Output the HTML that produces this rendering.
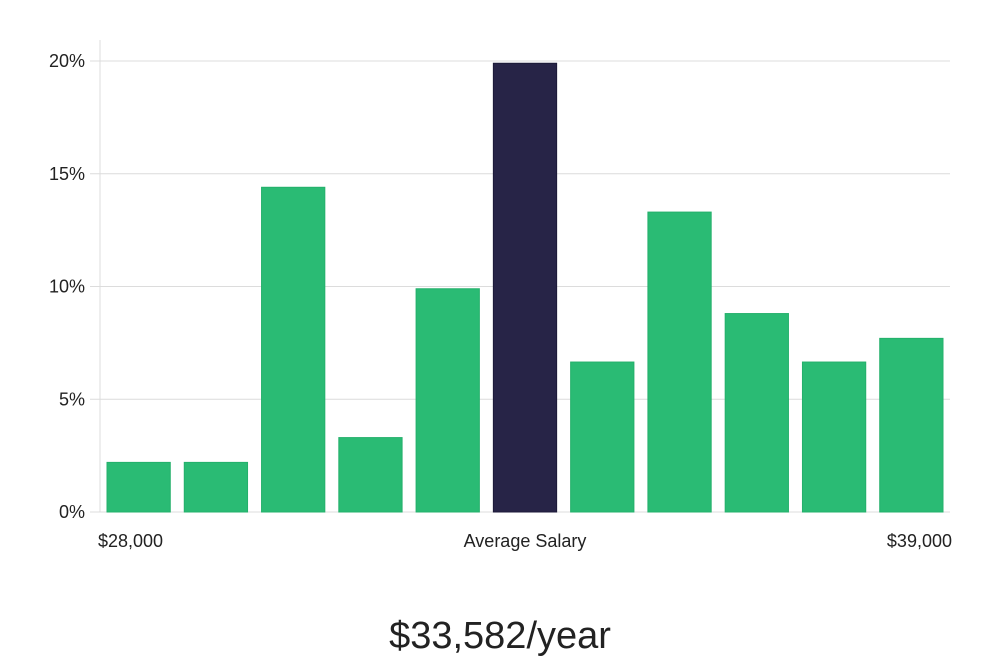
<!DOCTYPE html>
<html><head><meta charset="utf-8"><style>
body{margin:0;background:#fff;width:1000px;height:660px;overflow:hidden;font-family:"Liberation Sans","DejaVu Sans",sans-serif}
svg{display:block}
</style></head><body>
<svg width="1000" height="660" id="chart"></svg>
<script>
const categories=["b1","b2","b3","b4","b5","b6","b7","b8","b9","b10","b11"];
const values=[2.2,2.2,14.4,3.3,9.9,19.9,6.65,13.3,8.8,6.65,7.7];
const highlightIndex=5;
const yTicks=[0,5,10,15,20];
const yTickLabels=["0%","5%","10%","15%","20%"];
const xLabels=["$28,000","Average Salary","$39,000"];
const title="$33,582/year";

const NS="http://www.w3.org/2000/svg";
const svg=document.getElementById('chart');
const x0=100,x1=950,yBase=512,yTop=61,yMax=20;
const y=v=>yBase-(v/yMax)*(yBase-yTop);
const band=(x1-x0)/categories.length;
const bx=i=>x0+i*band+7;
const bw=band-14;
function mk(t,a){const e=document.createElementNS(NS,t);for(const k in a)e.setAttribute(k,a[k]);svg.appendChild(e);return e;}
let l=mk('line',{x1:x0,x2:x0,y1:40,y2:yBase,stroke:'#ddd','stroke-width':1});


yTicks.forEach((t,i)=>{
  const g=mk('line',{x1:90,x2:x1,y1:y(t),y2:y(t),stroke:'#dcdcdc','stroke-width':1});
  
  
  const tx=mk('text',{x:85,y:y(t)+6,'text-anchor':'end','font-size':18,fill:'#222'});
  tx.textContent=yTickLabels[i];
  
  
});
values.forEach((v,i)=>{
  const r=mk('rect',{x:bx(i),y:y(v),width:bw,height:yBase-y(v),fill:i===highlightIndex?'#272447':'#2abb74',stroke:i===highlightIndex?'#1c1a38':'#24b06b','stroke-width':1});
  
  
});
const xl=[[98,'start'],[525,'middle'],[952,'end']];
xLabels.forEach((s,i)=>{
  const t=mk('text',{x:xl[i][0],y:547,'text-anchor':xl[i][1],'font-size':18,fill:'#222'});
  t.textContent=s;
  
  
});
const tt=mk('text',{x:500,y:648,'text-anchor':'middle','font-size':38,fill:'#222'});
tt.textContent=title;


</script>
</body></html>
